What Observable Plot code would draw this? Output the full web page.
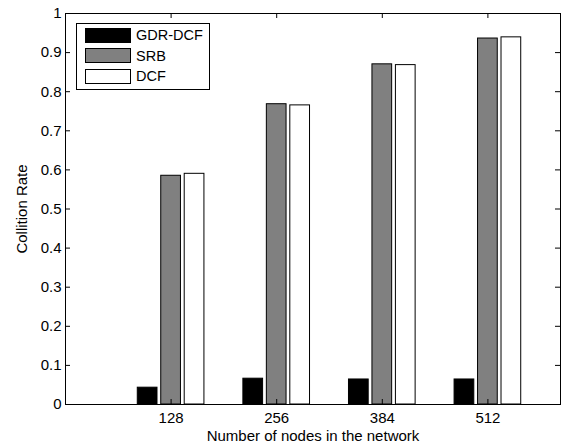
<!DOCTYPE html>
<html>
<head>
<meta charset="utf-8">
<script src="https://cdn.jsdelivr.net/npm/d3@7"></script>
<script src="https://cdn.jsdelivr.net/npm/@observablehq/plot@0.6"></script>
<style>
  html, body { margin: 0; padding: 0; background: #fff; }
  #chart { position: relative; width: 563px; height: 445px; font-family: "Liberation Sans", Arial, sans-serif; }
  #chart svg { position: absolute; left: 0; top: 0; }
  .legend { position: absolute; left: 76px; top: 23px; width: 134px; height: 67px;
            border: 1px solid #000; background: #fff; box-sizing: border-box; }
  .legend .row { position: absolute; left: 8px; height: 16px; display: flex; align-items: center; }
  .legend .sw { width: 46px; height: 15px; border: 1px solid #000; box-sizing: border-box; }
  .legend .lb { margin-left: 5px; font-size: 14.5px; color: #000; }
</style>
</head>
<body>
<div id="chart"></div>
<script>
// Collision rate per scheme for each network size
const nodes = [128, 256, 384, 512];
const schemes = ["GDR-DCF", "SRB", "DCF"];
const gdrDcf = [0.043, 0.066, 0.064, 0.064];
const srb = [0.585, 0.768, 0.870, 0.936];
const dcf = [0.590, 0.765, 0.868, 0.939];
const yTicks = [0, 0.1, 0.2, 0.3, 0.4, 0.5, 0.6, 0.7, 0.8, 0.9, 1];
const colors = ["#000000", "#808080", "#ffffff"];

const series = [gdrDcf, srb, dcf];
const spacing = nodes[1] - nodes[0];
const groupWidth = spacing * 2 / 3;
const slot = groupWidth / schemes.length;
const barWidth = slot * 0.84;

const rows = [];
series.forEach((vals, s) => {
  vals.forEach((v, i) => {
    const c = nodes[i] - groupWidth / 2 + slot * (s + 0.5);
    rows.push({scheme: schemes[s], x1: c - barWidth / 2, x2: c + barWidth / 2, value: v, fill: colors[s]});
  });
});

const xMax = 600;
const tickLenX = xMax * 5 / 495;   // about 5px inward
const tickLenY = 5 / 391;

const plot = Plot.plot({
  width: 563,
  height: 445,
  marginLeft: 65,
  marginRight: 3,
  marginTop: 13,
  marginBottom: 41,
  style: {fontFamily: "'Liberation Sans', Arial, sans-serif", fontSize: "15px", color: "#000", background: "#fff"},
  x: {domain: [0, xMax]},
  y: {domain: [0, 1]},
  marks: [
    Plot.rectY(rows, {x1: "x1", x2: "x2", y1: 0, y2: "value", fill: "fill", stroke: "#000", strokeWidth: 1}),
    Plot.ruleY(yTicks, {y: d => d, x1: 0, x2: tickLenX, stroke: "#000"}),
    Plot.ruleY(yTicks, {y: d => d, x1: xMax - tickLenX, x2: xMax, stroke: "#000"}),
    Plot.ruleX(nodes, {x: d => d, y1: 0, y2: tickLenY, stroke: "#000"}),
    Plot.ruleX(nodes, {x: d => d, y1: 1 - tickLenY, y2: 1, stroke: "#000"}),
    Plot.frame({stroke: "#000", strokeWidth: 1}),
    Plot.axisY({ticks: yTicks, tickSize: 0, tickPadding: 4, tickFormat: d => String(d),
                label: "Collition Rate", labelAnchor: "center", labelArrow: "none", labelOffset: 49}),
    Plot.axisX({ticks: nodes, tickSize: 0, tickPadding: 8, tickFormat: d => String(d),
                label: "Number of nodes in the network", labelAnchor: "center", labelArrow: "none", labelOffset: 36})
  ]
});

const chart = document.getElementById("chart");
chart.appendChild(plot);

// Legend box drawn over the upper-left corner of the axes
const legend = document.createElement("div");
legend.className = "legend";
schemes.forEach((name, i) => {
  const row = document.createElement("div");
  row.className = "row";
  row.style.top = (3 + i * 20.5) + "px";
  const sw = document.createElement("div");
  sw.className = "sw";
  sw.style.background = colors[i];
  const lb = document.createElement("span");
  lb.className = "lb";
  lb.textContent = name;
  row.appendChild(sw);
  row.appendChild(lb);
  legend.appendChild(row);
});
chart.appendChild(legend);
</script>
</body>
</html>
